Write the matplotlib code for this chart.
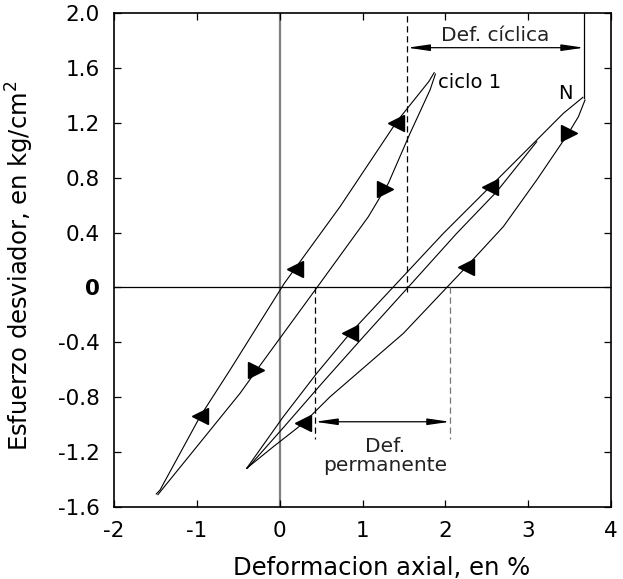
import numpy as np
import matplotlib.pyplot as plt

# ciclo 1: left (unloading) and right (loading) branches, bottom tip -> top tip
c1_left_x = [-1.49, -1.445, -0.962, -0.60, 0.056, 0.728, 1.413, 1.80, 1.865]
c1_left_y = [-1.505, -1.477, -0.942, -0.602, 0.030, 0.588, 1.208, 1.50, 1.565]
c1_right_x = [-1.47, -0.479, -0.277, 0.487, 1.07, 1.312, 1.574, 1.815, 1.88]
c1_right_y = [-1.51, -0.772, -0.602, 0.030, 0.515, 0.759, 1.123, 1.439, 1.555]

# ciclo N: upper line, inner line and lower line, bottom tip -> top tip
cN_up_x = [-0.398, 0.044, 0.447, 0.849, 1.413, 1.976, 2.54, 3.103, 3.425, 3.66]
cN_up_y = [-1.318, -0.942, -0.626, -0.335, 0.030, 0.394, 0.734, 1.074, 1.269, 1.385]
cN_mid_x = [-0.39, 0.044, 0.527, 1.01, 1.594, 2.137, 2.62, 3.103]
cN_mid_y = [-1.318, -1.022, -0.687, -0.36, 0.030, 0.394, 0.698, 1.062]
cN_low_x = [-0.398, -0.077, 0.285, 0.608, 1.493, 2.217, 2.70, 3.103, 3.485, 3.606, 3.686]
cN_low_y = [-1.318, -1.161, -0.990, -0.797, -0.335, 0.127, 0.443, 0.783, 1.123, 1.244, 1.366]

# direction markers (x position on each branch)
c1_left_arrows = [1.40, 0.18, -0.96]
c1_right_arrows = [1.27, -0.28]
cN_up_arrows = [2.54, 0.85]
cN_low_right = [3.49]
cN_low_left = [2.25, 0.285]

# deformation markers
def_ciclica = (1.54, 3.674)
y_ciclica = 1.747
tip_N = 1.38
def_perm = (0.427, 2.056)
y_perm = -0.979
y_perm_end = -1.107

xticks = [-2, -1, 0, 1, 2, 3, 4]
yticks = [-1.6, -1.2, -0.8, -0.4, 0.0, 0.4, 0.8, 1.2, 1.6, 2.0]

plt.rcParams['font.family'] = 'DejaVu Sans'
plt.rcParams['axes.unicode_minus'] = False

fig = plt.figure(figsize=(6.23, 5.79), dpi=100)
ax = fig.add_axes([0.183, 0.1244, 0.7978, 0.8532])

# reference axes
ax.axvline(0, color='#808080', lw=1.6, zorder=1)
ax.axhline(0, color='black', lw=0.9, zorder=1)

lc = dict(color='black', lw=0.8, zorder=3)
ax.plot(c1_left_x, c1_left_y, **lc)
ax.plot(c1_right_x, c1_right_y, **lc)
ax.plot(cN_up_x, cN_up_y, **lc)
ax.plot(cN_mid_x, cN_mid_y, **lc)
ax.plot(cN_low_x, cN_low_y, **lc)


def put_arrows(xs, bx, by, marker):
    ys = np.interp(xs, bx, by)
    ax.plot(xs, ys, linestyle='none', marker=marker, markersize=11,
            color='black', zorder=4)


put_arrows(c1_left_arrows, c1_left_x, c1_left_y, '<')
put_arrows(c1_right_arrows, c1_right_x, c1_right_y, '>')
put_arrows(cN_up_arrows, cN_up_x, cN_up_y, '<')
put_arrows(cN_low_right, cN_low_x, cN_low_y, '>')
put_arrows(cN_low_left, cN_low_x, cN_low_y, '<')

# Def. ciclica
ax.plot([def_ciclica[0]] * 2, [-0.03, 2.0], color='black', lw=0.9, ls=(0, (5, 3)), zorder=2)
ax.plot([def_ciclica[1]] * 2, [tip_N, 2.0], color='black', lw=0.9, zorder=2)
head = '<|-|>,head_length=0.9,head_width=0.13'
ax.annotate('', xy=(def_ciclica[1], y_ciclica), xytext=(def_ciclica[0], y_ciclica),
            arrowprops=dict(arrowstyle=head, color='black', lw=0.9,
                            mutation_scale=15, shrinkA=0, shrinkB=0))
ax.text(sum(def_ciclica) / 2 - 0.005, 1.835, 'Def. cíclica', ha='center', va='center',
        fontsize=14.5, color='#222222')

# Def. permanente
ax.plot([def_perm[0]] * 2, [0.0, y_perm_end], color='black', lw=0.9, ls=(0, (5, 3)), zorder=2)
ax.plot([def_perm[1]] * 2, [0.0, y_perm_end], color='#777777', lw=0.9, ls=(0, (5, 3)), zorder=2)
ax.annotate('', xy=(def_perm[1], y_perm), xytext=(def_perm[0], y_perm),
            arrowprops=dict(arrowstyle=head, color='black', lw=0.9,
                            mutation_scale=15, shrinkA=0, shrinkB=0))
ax.text(1.272, -1.229, 'Def.\npermanente', ha='center', va='center',
        fontsize=14.5, color='#222222', linespacing=1.05)

ax.text(1.908, 1.49, 'ciclo 1', ha='left', va='center', fontsize=14)
ax.text(3.445, 1.41, 'N', ha='center', va='center', fontsize=14)

ax.set_xlim(-2, 4)
ax.set_ylim(-1.6, 2.0)
ax.set_xticks(xticks)
ax.set_xticklabels([str(t) for t in xticks])
ax.set_yticks(yticks)
ylabels = ['0' if t == 0 else '%.1f' % t for t in yticks]
ax.set_yticklabels(ylabels)
ax.get_yticklabels()[yticks.index(0.0)].set_fontweight('bold')
ax.tick_params(direction='in', top=True, right=True, labelsize=15.5, length=5,
               width=0.9, pad=10)
for s in ax.spines.values():
    s.set_linewidth(1.2)

ax.set_xlabel('Deformacion axial, en %', fontsize=17.5)
ax.xaxis.set_label_coords(0.539, -0.10)
ax.set_ylabel('Esfuerzo desviador, en kg/cm$^2$', fontsize=17.5)
ax.yaxis.set_label_coords(-0.157, 0.488)

fig.savefig('out.png', dpi=100)
